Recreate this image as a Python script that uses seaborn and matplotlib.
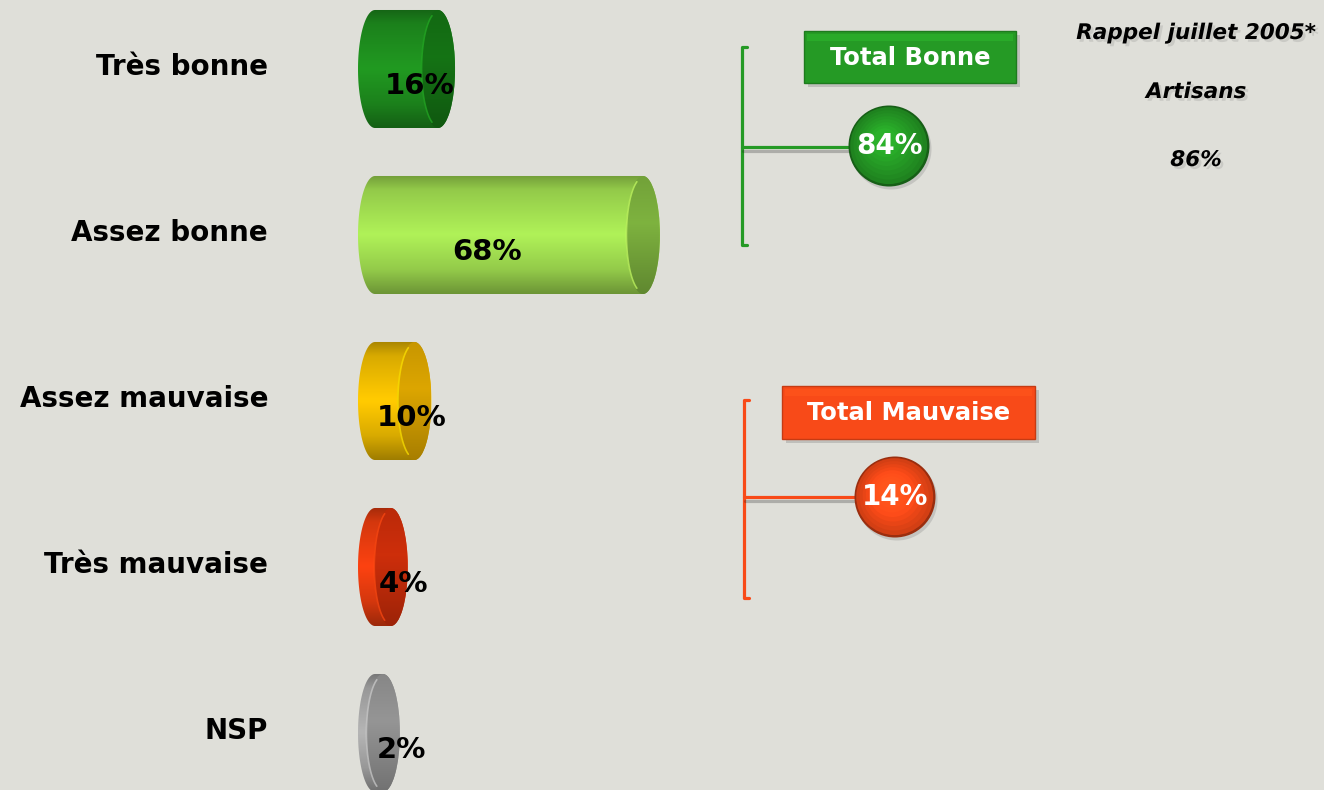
import numpy as np
import pandas as pd
import matplotlib
matplotlib.use("Agg")
import matplotlib.pyplot as plt
import seaborn as sns
from matplotlib.patches import Polygon, Ellipse, Rectangle
from matplotlib import patheffects as pe
from matplotlib import transforms as mtransforms

# ---------------- data ----------------
categories = ["Très bonne", "Assez bonne", "Assez mauvaise", "Très mauvaise", "NSP"]
values = [16, 68, 10, 4, 2]
bar_colors = ["#1E8C1E", "#A0DC50", "#EBB900", "#E63C0F", "#A5A5A5"]
cap_colors = ["#146E14", "#78AA3C", "#D29E00", "#C42C0A", "#8E8E8E"]
total_labels = ["Total Bonne", "Total Mauvaise"]
total_values = [84, 14]
total_colors = ["#259A25", "#F84A18"]
rappel_title = "Rappel juillet 2005*"
rappel_group = "Artisans"
rappel_value = 86

BG = "#DFDFD9"

sns.set_theme(style="white")
plt.rcParams["font.family"] = ["DejaVu Sans"]

W, H = 1324, 790
fig = plt.figure(figsize=(W / 100, H / 100), dpi=100, facecolor=BG)
AX_LEFT = 358
ax = fig.add_axes([AX_LEFT / W, 0, (W - AX_LEFT) / W, 1])
ax.set_facecolor(BG)

# pixel scale helpers (for layout only)
PX_PER_UNIT = 3.94
X0_PX = 375
ROW0_PX, ROW_PX = 69, 166
def dx(px):
    return (px - X0_PX) / PX_PER_UNIT
def dy(py):
    return (py - ROW0_PX) / ROW_PX
def sx(px):
    return px / PX_PER_UNIT
def sy(py):
    return py / ROW_PX

df = pd.DataFrame({"cat": categories, "val": values})
sns.barplot(data=df, x="val", y="cat", hue="cat", palette=bar_colors,
            orient="h", width=0.711, legend=False, ax=ax, zorder=1,
            linewidth=0, edgecolor="none")

rw = sx(17)  # half-width of cylinder ends


def shade(base, factors):
    c = np.array(matplotlib.colors.to_rgb(base))
    return np.clip(c[None, :] * np.array(factors)[:, None], 0, 1)


tt = np.linspace(0, 1, 80)
body_prof = np.interp(tt, [0, 0.12, 0.5, 0.8, 1], [0.72, 0.92, 1.1, 0.92, 0.68])
cap_prof = np.interp(tt, [0, 0.4, 1], [0.95, 1.05, 0.8])

theta_l = np.linspace(np.pi / 2, 3 * np.pi / 2, 60)
theta_r = np.linspace(-np.pi / 2, np.pi / 2, 60)

for i, p in enumerate(ax.patches):
    v = p.get_width()
    yc = p.get_y() + p.get_height() / 2
    hh = p.get_height() / 2
    left = np.column_stack([0 + rw * np.cos(theta_l), yc - hh * np.sin(theta_l)])
    right = np.column_stack([v + rw * np.cos(theta_r), yc - hh * np.sin(theta_r)])
    pts = np.vstack([left, right])
    poly = Polygon(pts, closed=True, facecolor="none", edgecolor="none", zorder=2)
    ax.add_patch(poly)
    grad = shade(bar_colors[i], body_prof)[:, None, :].repeat(2, axis=1)
    im = ax.imshow(grad, extent=[-rw, v + rw, yc + hh, yc - hh], aspect="auto",
                   interpolation="bilinear", zorder=2)
    im.set_clip_path(poly)
    cap = Ellipse((v, yc), 2 * rw, 2 * hh, facecolor="none", edgecolor="none", zorder=3)
    ax.add_patch(cap)
    cgrad = shade(cap_colors[i], cap_prof)[:, None, :].repeat(2, axis=1)
    im2 = ax.imshow(cgrad, extent=[v - rw, v + rw, yc + hh, yc - hh], aspect="auto",
                    interpolation="bilinear", zorder=3)
    im2.set_clip_path(cap)
    th = np.linspace(np.pi * 0.62, np.pi * 1.38, 40)
    ax.plot(v + rw * 0.97 * np.cos(th), yc - hh * 0.97 * np.sin(th),
            color=shade(bar_colors[i], [1.25])[0], lw=1.2, alpha=0.7, zorder=4)
    ax.text(0.33 * v + 6, yc + 0.105, f"{values[i]}%", ha="center", va="center",
            fontsize=21, fontweight="bold", color="black", zorder=5)

ax.set_xlim(dx(AX_LEFT), dx(W))
ax.set_ylim(dy(H), dy(0))
ax.set_xlabel("")
ax.set_ylabel("")
ax.set_xticks([])
ax.tick_params(axis="y", length=0, pad=64.8, labelsize=20)
lift = mtransforms.ScaledTranslation(0, 5 / 100, fig.dpi_scale_trans)
for lab in ax.get_yticklabels():
    lab.set_fontweight("bold")
    lab.set_color("black")
    lab.set_transform(lab.get_transform() + lift)
for s in ax.spines.values():
    s.set_visible(False)

# ---------------- totals (brackets, boxes, circles) ----------------
shadow_fx = [pe.withSimplePatchShadow(offset=(3, -3), shadow_rgbFace="#777777", alpha=0.3)]

def bracket(xpx, y1, y2, ycon, xcon_end, color):
    ax.plot([dx(xpx + 5), dx(xpx), dx(xpx), dx(xpx + 5)],
            [dy(y1), dy(y1), dy(y2), dy(y2)], color=color, lw=2.3,
            solid_joinstyle="round", zorder=4, clip_on=False)
    ax.plot([dx(xpx), dx(xcon_end)], [dy(ycon), dy(ycon)], color=color, lw=2.3,
            zorder=4, path_effects=[pe.SimpleLineShadow(offset=(1, -3), alpha=0.25), pe.Normal()])

def box(x1, y1, x2, y2, color, text):
    r = Rectangle((dx(x1), dy(y2)), dx(x2) - dx(x1), dy(y1) - dy(y2),
                  facecolor=color, edgecolor=shade(color, [0.8])[0], lw=1,
                  zorder=5, path_effects=shadow_fx)
    ax.add_patch(r)
    hb = Rectangle((dx(x1 + 3), dy(y1 + 3)), dx(x2 - 3) - dx(x1 + 3), sy(7),
                   facecolor=shade(color, [1.18])[0], edgecolor="none", alpha=0.6, zorder=5)
    ax.add_patch(hb)
    ax.text(dx((x1 + x2) / 2), dy((y1 + y2) / 2 + 1), text, ha="center", va="center",
            fontsize=17.5, fontweight="bold", color="white", zorder=6)

def disc(cxpx, cypx, rpx, color, text):
    ring = shade(color, [0.62])[0]
    ax.add_patch(Ellipse((dx(cxpx + 2), dy(cypx + 3)), sx(2 * rpx), sy(2 * rpx),
                         facecolor="#888888", alpha=0.3, edgecolor="none", zorder=5))
    ax.add_patch(Ellipse((dx(cxpx), dy(cypx)), sx(2 * rpx), sy(2 * rpx),
                         facecolor=ring, edgecolor="none", zorder=5))
    for k, f in zip(np.linspace(0.95, 0.3, 8), np.linspace(0.85, 1.15, 8)):
        ax.add_patch(Ellipse((dx(cxpx - (1 - k) * 6), dy(cypx - (1 - k) * 8)),
                             sx(2 * rpx * k), sy(2 * rpx * k),
                             facecolor=shade(color, [f])[0], edgecolor="none", zorder=5))
    ax.text(dx(cxpx), dy(cypx), text, ha="center", va="center",
            fontsize=20, fontweight="bold", color="white", zorder=6)

bracket(742, 47, 245, 147, 852, total_colors[0])
box(804, 31, 1016, 83, total_colors[0], total_labels[0])
disc(889, 146, 40.5, total_colors[0], f"{total_values[0]}%")

bracket(744, 400, 598, 497, 858, total_colors[1])
box(782, 386, 1035, 439, total_colors[1], total_labels[1])
disc(895, 497, 40.5, total_colors[1], f"{total_values[1]}%")

# ---------------- reminder (right) ----------------
txt_fx = [pe.withSimplePatchShadow(offset=(2, -2), shadow_rgbFace="#777777", alpha=0.2)]
for ypx, t in [(33, rappel_title), (92, rappel_group), (160, f"{rappel_value}%")]:
    ax.text(dx(1196), dy(ypx), t, ha="center", va="center", fontsize=15.5,
            fontweight="bold", fontstyle="italic", color="black", zorder=6,
            path_effects=txt_fx)

fig.savefig("out.png", dpi=100, facecolor=BG)
